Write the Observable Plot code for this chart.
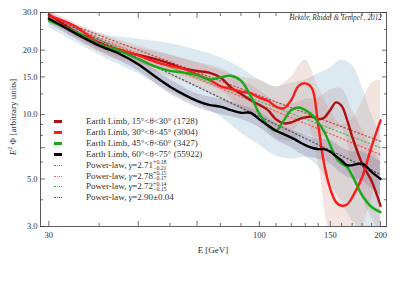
<!DOCTYPE html>
<html><head><meta charset="utf-8">
<script src="https://cdn.jsdelivr.net/npm/d3@7"></script>
<script src="https://cdn.jsdelivr.net/npm/@observablehq/plot@0.6"></script>
<style>
body{margin:0;background:#fff;}
#wrap{position:relative;width:415px;height:296px;font-family:"Liberation Serif","DejaVu Serif",serif;color:#333;}
.ov{position:absolute;white-space:nowrap;}
.row{position:absolute;left:0;height:11px;line-height:11px;font-size:9px;}
.sw{position:absolute;left:0;top:4px;width:8px;height:3px;}
.dots{position:absolute;left:0;top:5px;width:8px;height:0;border-top:1.4px dotted;}
.txt{position:absolute;left:32px;top:0;}
.ss{display:inline-block;vertical-align:middle;font-size:5.8px;line-height:5.2px;text-align:left;}
</style></head><body><div id="wrap"></div><script>
// ---- data ----
const energy = [30,35,40,45,50,55,60,65,70,75,80,85,90,95,100,105,110,115,120,125,130,135,140,145,150,155,160,165,170,180,190,200];
const limb15 = [29.4,24.4,21.7,19.8,19.0,18.2,17.3,16.4,16.0,15.7,14.9,13.4,12.5,11.7,11.1,10.5,9.5,9.1,9.2,9.5,9.7,9.8,9.5,9.7,10.5,11.4,11.0,9.5,7.9,5.9,4.9,3.75];
const limb30 = [29.0,25.8,21.5,20.1,18.9,17.7,16.9,16.3,15.4,14.6,13.6,13.2,12.8,12.6,12.0,11.6,10.9,10.7,11.7,13.6,14.0,13.3,8.9,5.8,4.5,3.9,3.75,3.8,4.1,5.1,7.1,9.4];
const limb45 = [27.5,24.3,21.3,19.8,18.2,16.8,16.0,15.7,15.3,14.6,14.9,15.2,14.4,12.3,10.1,8.9,8.4,9.4,10.5,10.8,10.5,10.0,9.2,8.3,7.2,6.3,5.9,5.7,5.2,4.2,3.7,3.5];
const limb60 = [28.1,23.9,21.0,19.2,17.2,15.1,13.5,12.4,11.6,11.1,10.9,10.5,10.2,10.2,9.5,8.9,8.4,8.1,7.8,7.5,7.2,7.0,6.9,6.9,6.7,6.4,6.1,5.8,5.8,5.9,5.4,5.0];

const bandE = [30,40,50,60,70,80,90,100,110,120,130,140,150,160,170,180,190,200];
const band15Lo = [27.8,20.2,17.4,15.8,14.4,13.0,10.7,9.4,7.8,7.5,8.0,7.8,8.4,8.6,5.8,4.1,3.3,2.8];
const band15Hi = [30.5,23.0,20.5,19.0,17.5,16.5,14.5,13.0,11.5,11.2,11.8,12.0,13.0,13.2,10.5,8.5,7.0,6.0];
const band30Lo = [27.5,19.5,16.8,15.0,13.5,11.8,10.5,9.7,8.5,8.3,9.5,6.0,2.8,2.5,2.6,3.0,4.0,5.5];
const band30Hi = [30.5,24.0,21.0,19.0,17.5,16.0,15.0,14.5,13.5,15.0,18.0,13.5,10.5,9.0,9.5,11.5,14.0,14.5];
const band45Lo = [25.5,19.0,15.5,12.8,11.2,9.8,8.2,7.2,6.4,6.2,6.3,5.7,4.7,3.9,3.2,2.8,2.6,2.6];
const band45Hi = [29.5,24.0,22.5,21.5,20.0,18.5,16.5,14.5,13.5,14.0,14.5,15.5,16.5,18.0,17.0,13.5,10.0,8.0];
const band60Lo = [26.5,19.8,16.0,12.5,10.8,10.0,9.5,8.7,7.6,7.0,6.4,6.2,5.9,5.3,5.0,4.9,4.5,4.2];
const band60Hi = [29.8,22.3,18.2,14.6,12.5,11.8,11.1,10.3,9.1,8.5,8.0,7.7,7.6,7.0,6.7,6.7,6.4,6.0];

const plE = [30, 200];
const pl15 = [28.8, 7.5];
const pl30 = [28.6, 6.5];
const pl45 = [27.5, 7.0];
const pl60 = [29.0, 5.25];

const xTicks = [30,50,70,100,150,200];
const xMinor = [40,60,80,90,110,120,130,140,160,170,180,190];
const yTicks = [3,5,7,10,15,20,30];
const yMinor = [4,6,8,9,12.5,17.5,25];

const seriesNames = ["Earth Limb, 15°<θ<30° (1728)","Earth Limb, 30°<θ<45° (3004)","Earth Limb, 45°<θ<60° (3427)","Earth Limb, 60°<θ<75° (55922)"];
const gammaMain = ["2.71","2.78","2.72","2.90"];
const gammaUp = ["+0.18","+0.15","+0.14",null];
const gammaDn = ["−0.21","−0.17","−0.15",null];
const gammaPM = [null,null,null,"±0.04"];

// ---- styles ----
const lineColors = ["#b00f0f","#ff1a1a","#1aa81a","#000000"];
const dotColors = ["#c05050","#ff5a5a","#55bb55","#555555"];
const bandColors = ["#a87a84","#d9a497","#8cb6cc","#7d6c92"];
const bandOpac = [0.2,0.3,0.3,0.28];

const vals = [limb15, limb30, limb45, limb60];
const los = [band15Lo, band30Lo, band45Lo, band60Lo];
const his = [band15Hi, band30Hi, band45Hi, band60Hi];
const pls = [pl15, pl30, pl45, pl60];

const marks = [];
[2,1,0,3].forEach(k => {
  const rows = bandE.map((e,i) => ({e, lo: los[k][i], hi: his[k][i]}));
  marks.push(Plot.areaY(rows, {x:"e", y1:"lo", y2:"hi", fill: bandColors[k], fillOpacity: bandOpac[k], curve:"catmull-rom", clip:true}));
});
[0,1,2,3].forEach(k => {
  const rows = plE.map((e,i) => ({e, v: pls[k][i]}));
  marks.push(Plot.line(rows, {x:"e", y:"v", stroke: dotColors[k], strokeWidth:1.3, strokeDasharray:"1.2,2.6", clip:true}));
});
[0,1,2,3].forEach(k => {
  const rows = energy.map((e,i) => ({e, v: vals[k][i]}));
  marks.push(Plot.line(rows, {x:"e", y:"v", stroke: lineColors[k], strokeWidth:2.4, curve:"catmull-rom", clip:true}));
});
const tk = {stroke:"#333", strokeWidth:0.7};
marks.push(
  Plot.frame({stroke:"#333", strokeWidth:0.8}),
  Plot.axisX(xTicks, {anchor:"bottom", tickSize:-5, tickPadding:10, tickFormat:d=>String(d), fill:"#333", ...tk}),
  Plot.axisX(xMinor, {anchor:"bottom", tickSize:-3, tickFormat:()=>"", ...tk}),
  Plot.axisX(xTicks, {anchor:"top", tickSize:-5, tickFormat:()=>"", ...tk}),
  Plot.axisX(xMinor, {anchor:"top", tickSize:-3, tickFormat:()=>"", ...tk}),
  Plot.axisY(yTicks, {anchor:"left", tickSize:-5, tickPadding:8, tickFormat:d=>d.toFixed(1), fill:"#333", ...tk}),
  Plot.axisY(yMinor, {anchor:"left", tickSize:-3, tickFormat:()=>"", ...tk}),
  Plot.axisY(yTicks, {anchor:"right", tickSize:-5, tickFormat:()=>"", ...tk}),
  Plot.axisY(yMinor, {anchor:"right", tickSize:-3, tickFormat:()=>"", ...tk})
);

const chart = Plot.plot({
  width:415, height:296,
  marginLeft:40, marginRight:29, marginTop:12, marginBottom:70,
  x:{type:"log", domain:[28.6,206.9], label:null},
  y:{type:"log", domain:[3,30], label:null},
  style:{fontFamily:'"Liberation Serif", serif', fontSize:"8.5px", background:"#fff", color:"#333"},
  marks
});
const wrap = document.getElementById("wrap");
wrap.appendChild(chart);

function ov(html, css){ const d=document.createElement("div"); d.className="ov"; d.innerHTML=html; Object.assign(d.style, css); wrap.appendChild(d); return d; }
ov('<i>E</i><sup style="font-size:6px">2</sup> Φ [arbitrary units]', {left:"12px", top:"117px", fontSize:"9px", transform:"translate(-50%,-50%) rotate(-90deg)"});
ov('E [GeV]', {left:"213px", top:"250px", fontSize:"9px", transform:"translate(-50%,-50%)"});
ov('<i>Hektor, Raidal &amp; Tempel , 2012</i>', {right:"33px", top:"17px", fontSize:"7.3px", transform:"translateY(-50%)"});

const leg = ov('', {left:"54px", top:"116px"});
for (let i=0;i<4;i++){
  const r=document.createElement("div"); r.className="row"; r.style.top=(i*11)+"px";
  r.innerHTML=`<span class="sw" style="background:${lineColors[i]}"></span><span class="txt">${seriesNames[i]}</span>`;
  leg.appendChild(r);
}
for (let i=0;i<4;i++){
  const r=document.createElement("div"); r.className="row"; r.style.top=((i+4)*10.9)+"px";
  const g = gammaPM[i] ? `${gammaMain[i]}${gammaPM[i]}` : `${gammaMain[i]}<span class="ss">${gammaUp[i]}<br>${gammaDn[i]}</span>`;
  r.innerHTML=`<span class="dots" style="border-color:${dotColors[i]}"></span><span class="txt">Power-law, <i>γ</i>=${g}</span>`;
  leg.appendChild(r);
}
</script></body></html>
